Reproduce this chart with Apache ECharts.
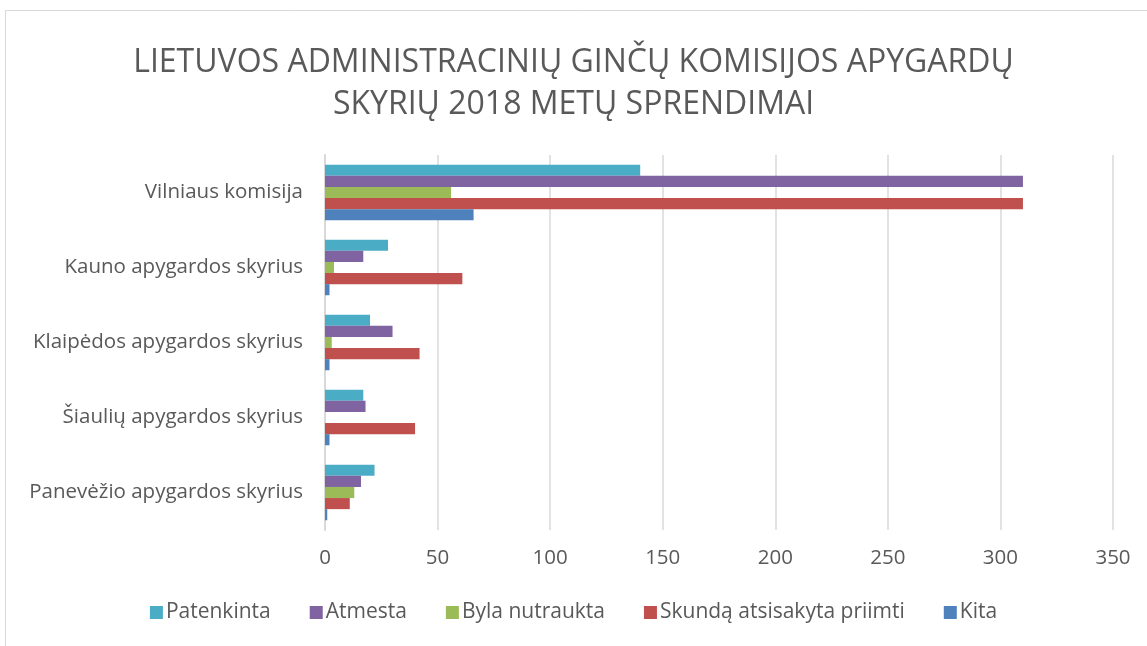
<!DOCTYPE html>
<html>
<head>
<meta charset="UTF-8">
<title>Sprendimai</title>
<style>
body{margin:0;background:#fff;}
#main{width:1147px;height:646px;}
</style>
</head>
<body>
<div id="main"></div>
<script src="https://cdn.jsdelivr.net/npm/echarts@6/dist/echarts.min.js"></script>
<script>
// kategorijos (iš viršaus į apačią)
var categories = ['Vilniaus komisija', 'Kauno apygardos skyrius', 'Klaipėdos apygardos skyrius', 'Šiaulių apygardos skyrius', 'Panevėžio apygardos skyrius'];
var seriesNames = ['Patenkinta', 'Atmesta', 'Byla nutraukta', 'Skundą atsisakyta priimti', 'Kita'];
var patenkinta = [140, 28, 20, 17, 22];
var atmesta = [310, 17, 30, 18, 16];
var bylaNutraukta = [56, 4, 3, 0, 13];
var skunda = [310, 61, 42, 40, 11];
var kita = [66, 2, 2, 2, 1];
var colors = ['#4BACC6', '#8064A2', '#9BBB59', '#C0504D', '#4F81BD'];

var values = [patenkinta, atmesta, bylaNutraukta, skunda, kita];
var font = 'Open Sans';

var series = [];
for (var i = 0; i < seriesNames.length; i++) {
	series.push({
		name: seriesNames[i],
		type: 'bar',
		data: values[i],
		barGap: '0%',
		barCategoryGap: '26%',
		itemStyle: {color: colors[i]}
	});
}

var myChart = echarts.init(document.getElementById('main'));
myChart.setOption({
	animation: false,
	color: colors,
	title: {
		text: 'LIETUVOS ADMINISTRACINIŲ GINČŲ KOMISIJOS APYGARDŲ\nSKYRIŲ 2018 METŲ SPRENDIMAI',
		left: 'center',
		top: 37,
		textStyle: {color: '#595959', fontSize: 32, fontWeight: 'normal', fontFamily: font, lineHeight: 42}
	},
	legend: {
		bottom: 18,
		left: 'center',
		itemWidth: 13,
		itemHeight: 13,
		itemGap: 39,
		icon: 'rect',
		textStyle: {color: '#595959', fontSize: 21, fontFamily: font, padding: [0, 0, 0, -2]}
	},
	graphic: [{
		type: 'rect',
		shape: {x: 5.5, y: 10.5, width: 1200, height: 700},
		style: {fill: 'none', stroke: '#D9D9D9', lineWidth: 1}
	}],
	grid: {left: 325, right: 34, top: 155, bottom: 116},
	xAxis: {
		type: 'value',
		min: 0,
		max: 350,
		interval: 50,
		axisLine: {show: false},
		axisTick: {show: false},
		axisLabel: {color: '#595959', fontSize: 20.5, fontFamily: font, margin: 18},
		splitLine: {lineStyle: {color: '#D9D9D9', width: 1.5}}
	},
	yAxis: {
		type: 'category',
		data: categories,
		inverse: true,
		axisLine: {lineStyle: {color: '#D9D9D9', width: 2}},
		axisTick: {show: false},
		axisLabel: {color: '#595959', fontSize: 20.5, fontFamily: font, margin: 22}
	},
	series: series
});
</script>
</body>
</html>
